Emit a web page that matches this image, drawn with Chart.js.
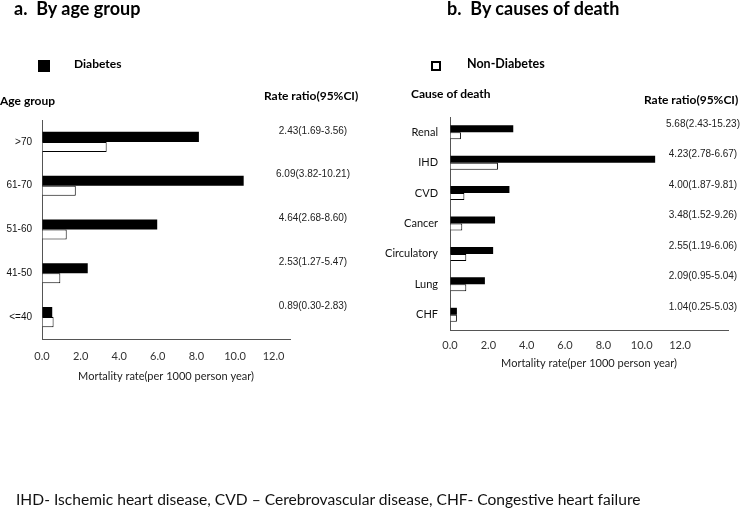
<!DOCTYPE html>
<html>
<head>
<meta charset="utf-8">
<script src="https://cdn.jsdelivr.net/npm/chart.js@4.4.1/dist/chart.umd.min.js"></script>
<style>
  body { margin: 0; background: #fff; }
  #wrap { position: relative; width: 740px; height: 512px; overflow: hidden; font-family: Lato, sans-serif; color: #000; }
  #wrap canvas { position: absolute; top: 0; }
  .t { position: absolute; white-space: nowrap; line-height: 1; }
  .h { font-weight: bold; font-size: 18px; }
  .b { font-weight: bold; font-size: 12px; }
  .sw { position: absolute; box-sizing: border-box; }
</style>
</head>
<body>
<div id="wrap">
  <canvas id="left" width="370" height="512" style="left:0"></canvas>
  <canvas id="right" width="370" height="512" style="left:370px"></canvas>

  <div class="t h" style="left:14px; top:-1px">a.&nbsp; By age group</div>
  <div class="t h" style="left:447px; top:-1px">b.&nbsp; By causes of death</div>

  <div class="sw" style="left:38px; top:60px; width:12px; height:12px; background:#000"></div>
  <div class="t b" style="left:74px; top:58px; font-size:12px">Diabetes</div>
  <div class="sw" style="left:431px; top:61px; width:10px; height:10px; border:2.5px solid #000"></div>
  <div class="t b" style="left:467px; top:58px; font-size:12.5px">Non-Diabetes</div>

  <div class="t b" style="left:0px; top:95px">Age group</div>
  <div class="t b" style="left:264px; top:90px">Rate ratio(95%CI)</div>
  <div class="t b" style="left:411px; top:88px">Cause of death</div>
  <div class="t b" style="left:644px; top:94px">Rate ratio(95%CI)</div>

  <div class="t" style="left:16px; top:492px; font-size:15.6px; color:#111">IHD- Ischemic heart disease, CVD – Cerebrovascular disease, CHF- Congestive heart failure</div>
</div>

<script>
// age groups (top to bottom)
const ageGroups = ['>70', '61-70', '51-60', '41-50', '<=40'];
const ageDiabetes = [8.13, 10.45, 5.97, 2.37, 0.53];
const ageNonDiabetes = [3.35, 1.75, 1.28, 0.95, 0.6];
const ageRatios = ['2.43(1.69-3.56)', '6.09(3.82-10.21)', '4.64(2.68-8.60)', '2.53(1.27-5.47)', '0.89(0.30-2.83)'];

// causes of death (top to bottom)
const causes = ['Renal', 'IHD', 'CVD', 'Cancer', 'Circulatory', 'Lung', 'CHF'];
const causeDiabetes = [3.3, 10.7, 3.1, 2.35, 2.25, 1.82, 0.36];
const causeNonDiabetes = [0.57, 2.5, 0.75, 0.64, 0.85, 0.85, 0.36];
const causeRatios = ['5.68(2.43-15.23)', '4.23(2.78-6.67)', '4.00(1.87-9.81)', '3.48(1.52-9.26)', '2.55(1.19-6.06)', '2.09(0.95-5.04)', '1.04(0.25-5.03)'];

const xTicks = [0, 2, 4, 6, 8, 10, 12];

// draws the rate ratio column next to each category
const ratioLabels = {
    id: 'ratioLabels',
    afterDraw(chart, args, opts) {
        const ctx = chart.ctx;
        const yScale = chart.scales.y;
        ctx.save();
        ctx.font = '10px "Liberation Sans", Arial, sans-serif';
        ctx.fillStyle = '#222';
        ctx.textAlign = 'center';
        ctx.textBaseline = 'middle';
        opts.texts.forEach((txt, i) => {
            ctx.fillText(txt, opts.x, yScale.getPixelForValue(i) + opts.dy);
        });
        ctx.restore();
    }
};

function makeChart(id, labels, diab, nondiab, ratios, cfg) {
    const ctx = document.getElementById(id).getContext('2d');
    return new Chart(ctx, {
        type: 'bar',
        data: {
            labels: labels,
            datasets: [{
                label: 'Diabetes',
                data: diab,
                backgroundColor: '#000',
                borderColor: '#000',
                borderWidth: 0
            }, {
                label: 'Non-Diabetes',
                data: nondiab,
                backgroundColor: '#fff',
                borderColor: '#000',
                borderWidth: 1
            }]
        },
        options: {
            indexAxis: 'y',
            responsive: false,
            animation: false,
            categoryPercentage: 0.46,
            barPercentage: 1.0,
            layout: { padding: cfg.padding },
            plugins: {
                legend: { display: false },
                tooltip: { enabled: false },
                ratioLabels: { texts: ratios, x: cfg.ratioX, dy: cfg.ratioDy }
            },
            scales: {
                y: {
                    afterFit: s => { s.width = cfg.yWidth; },
                    grid: { drawOnChartArea: false, drawTicks: false },
                    border: { color: '#555', width: 1 },
                    ticks: { color: '#111', padding: cfg.yPad, font: cfg.yFont }
                },
                x: {
                    min: 0,
                    max: cfg.xMax,
                    afterFit: s => { s.height = 50; },
                    afterBuildTicks: s => { s.ticks = xTicks.map(v => ({ value: v })); },
                    grid: { drawOnChartArea: false, drawTicks: false },
                    border: { color: '#555', width: 1 },
                    ticks: {
                        color: '#333',
                        padding: cfg.xPad,
                        font: { family: 'Lato', size: 11 },
                        callback: v => Number(v).toFixed(1)
                    },
                    title: {
                        display: true,
                        text: 'Mortality rate(per 1000 person year)',
                        color: '#222',
                        font: { family: 'Lato', size: 11 },
                        padding: { top: 0, bottom: cfg.titlePad }
                    }
                }
            }
        },
        plugins: [ratioLabels]
    });
}

makeChart('left', ageGroups, ageDiabetes, ageNonDiabetes, ageRatios, {
    padding: { top: 120, left: 0, right: 80, bottom: 123 },
    yWidth: 42, yPad: 10,
    yFont: { family: '"Liberation Sans", Arial', size: 10 },
    xMax: 12.85, xPad: 11, titlePad: 6,
    ratioX: 313, ratioDy: -11
});

makeChart('right', causes, causeDiabetes, causeNonDiabetes, causeRatios, {
    padding: { top: 117, left: 0, right: 12, bottom: 132 },
    yWidth: 80, yPad: 12,
    yFont: { family: 'Lato', size: 11 },
    xMax: 14.5, xPad: 9, titlePad: 10,
    ratioX: 333, ratioDy: -8
});
</script>
</body>
</html>
